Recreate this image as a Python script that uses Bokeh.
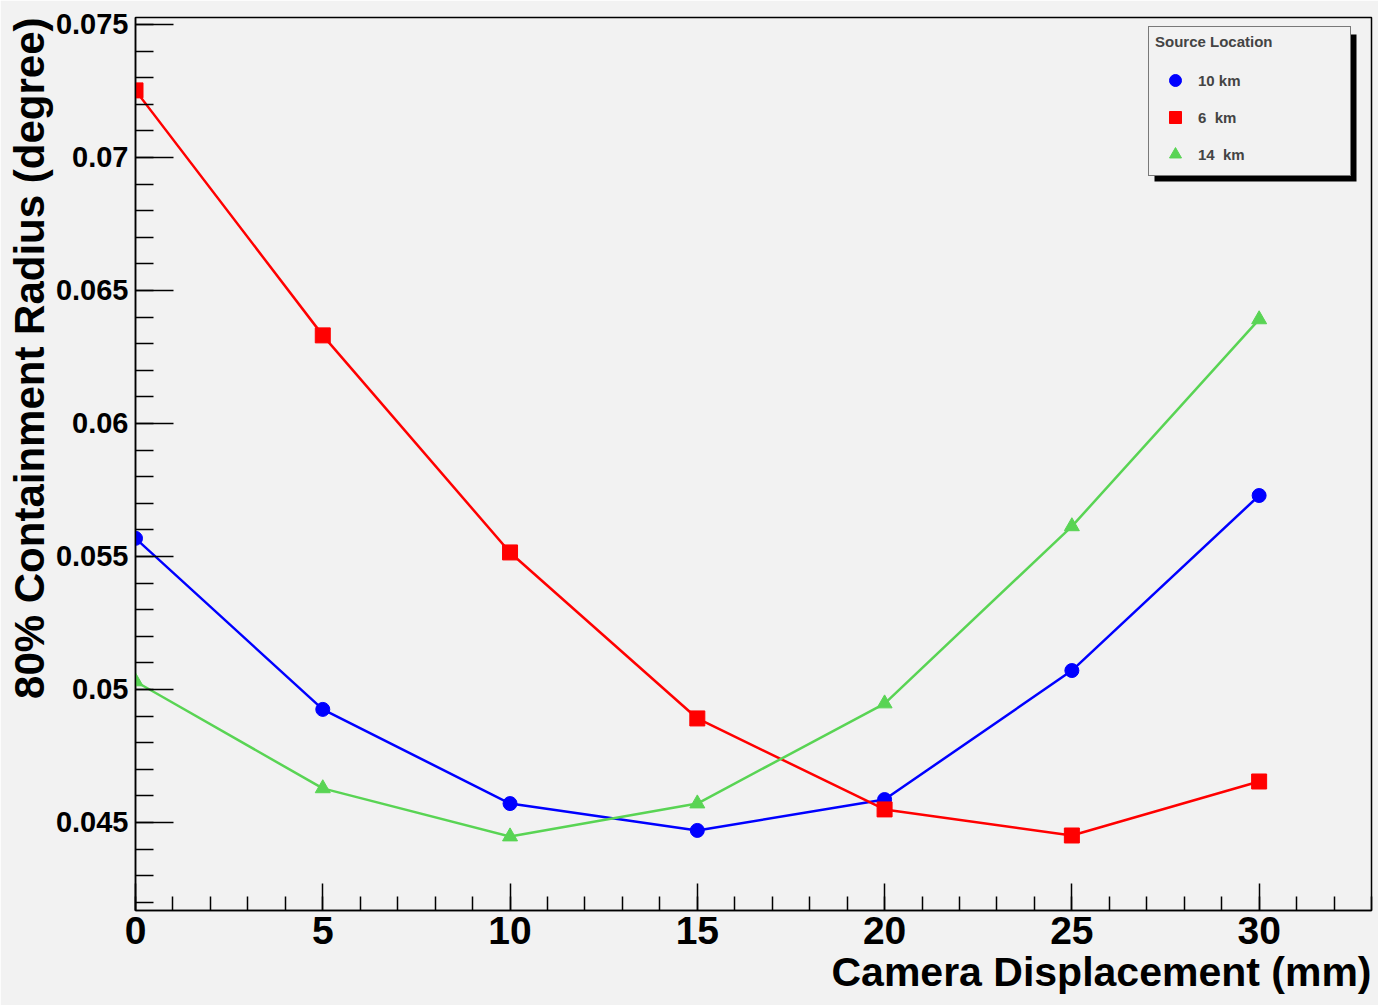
import math
from bokeh.plotting import figure
from bokeh.models import FixedTicker, Legend, LegendItem, BoxAnnotation, Range1d, Title
from bokeh.embed import file_html
from bokeh.resources import INLINE

# ---- data ----
displacement = [0, 5, 10, 15, 20, 25, 30]
radius_10km = [0.05568, 0.04925, 0.04571, 0.04470, 0.04586, 0.05071, 0.05729]
radius_6km = [0.07252, 0.06331, 0.05515, 0.04891, 0.04549, 0.04451, 0.04654]
radius_14km = [0.05030, 0.04628, 0.04447, 0.04571, 0.04947, 0.05613, 0.06391]
series_labels = ["10 km", "6  km", "14  km"]
x_ticks = [0, 5, 10, 15, 20, 25, 30]
x_tick_labels = ["0", "5", "10", "15", "20", "25", "30"]
y_ticks = [0.045, 0.05, 0.055, 0.06, 0.065, 0.07, 0.075]
y_tick_labels = ["0.045", "0.05", "0.055", "0.06", "0.065", "0.07", "0.075"]
legend_title = "Source Location"
x_title = "Camera Displacement (mm)"
y_title = "80% Containment Radius (degree)"

XMIN, XMAX = 0.0, 33.0
YMIN, YMAX = 0.04169, 0.07526

BG = "#f2f2f2"
FONT = "Liberation Sans"

W, H = 1378, 1005
ML, MR, MT, MB = 135, 7, 17, 95

p = figure(width=W, height=H, output_backend="svg", toolbar_location=None,
           x_range=Range1d(XMIN, XMAX), y_range=Range1d(YMIN, YMAX),
           min_border_left=ML, min_border_right=MR, min_border_top=MT, min_border_bottom=MB,
           background_fill_color=BG, border_fill_color=BG)
p.xgrid.visible = False
p.ygrid.visible = False
p.outline_line_color = "black"
p.outline_line_width = 1.5

# frame geometry (page pixels) for converting annotation positions
FL, FR, FT, FB = ML, W - MR, MT, H - MB
sx = (FR - FL) / (XMAX - XMIN)
sy = (FB - FT) / (YMAX - YMIN)
def dx(px):
    return XMIN + (px - FL) / sx
def dy(py):
    return YMAX - (py - FT) / sy

# axes
xa = p.xaxis[0]
xa.ticker = FixedTicker(ticks=x_ticks, minor_ticks=list(range(0, 34)))
xa.major_label_overrides = {t: l for t, l in zip(x_ticks, x_tick_labels)}
xa.major_tick_in = 27
xa.major_tick_out = 0
xa.minor_tick_in = 14
xa.minor_tick_out = 0
xa.major_tick_line_width = 1.5
xa.minor_tick_line_width = 1.5
xa.axis_line_width = 1.5
xa.major_label_text_font = FONT
xa.major_label_text_font_style = "bold"
xa.major_label_text_font_size = "39px"
xa.major_label_text_color = "black"
xa.major_label_standoff = 6

ya = p.yaxis[0]
ya.ticker = FixedTicker(ticks=y_ticks, minor_ticks=[round(0.042 + 0.001 * i, 3) for i in range(34)])
ya.major_label_overrides = {t: l for t, l in zip(y_ticks, y_tick_labels)}
ya.major_tick_in = 38
ya.major_tick_out = 0
ya.minor_tick_in = 18
ya.minor_tick_out = 0
ya.major_tick_line_width = 1.5
ya.minor_tick_line_width = 1.5
ya.axis_line_width = 1.5
ya.major_label_text_font = FONT
ya.major_label_text_font_style = "bold"
ya.major_label_text_font_size = "29px"
ya.major_label_text_color = "black"
ya.major_label_standoff = 7

# series
blue = "#0000ff"
red = "#ff0000"
green = "#59d454"
p.line(displacement, radius_10km, line_color=blue, line_width=2.5)
s1 = p.scatter(displacement, radius_10km, marker="circle", size=14, fill_color=blue, line_color=blue)
p.line(displacement, radius_6km, line_color=red, line_width=2.5)
s2 = p.scatter(displacement, radius_6km, marker="square", size=15, fill_color=red, line_color=red)
p.line(displacement, radius_14km, line_color=green, line_width=2.5)
s3 = p.scatter(displacement, radius_14km, marker="triangle", size=15, fill_color=green, line_color=green)

# legend shadow
shadow = BoxAnnotation(left=dx(1154), right=dx(1356), top=dy(34), bottom=dy(181),
                       fill_color="black", fill_alpha=1.0, line_alpha=0)
p.add_layout(shadow)

legend = Legend(items=[LegendItem(label=series_labels[0], renderers=[s1]),
                       LegendItem(label=series_labels[1], renderers=[s2]),
                       LegendItem(label=series_labels[2], renderers=[s3])],
                location=(1148 - FL, FB - 176),
                title=legend_title,
                title_text_font=FONT, title_text_font_style="bold", title_text_font_size="15px",
                title_standoff=15,
                label_text_font=FONT, label_text_font_style="bold", label_text_font_size="15px",
                padding=6, spacing=7, margin=0,
                glyph_width=40, glyph_height=30, label_height=30, label_width=146,
                label_standoff=3,
                border_line_color="black", border_line_width=1.5,
                background_fill_color=BG, background_fill_alpha=1.0)
p.add_layout(legend)

# axis titles
p.add_layout(Title(text=x_title, align="right", text_font=FONT, text_font_style="bold",
                   text_font_size="41px", text_color="black", standoff=0, offset=0), "below")
p.add_layout(Title(text=y_title, align="right", text_font=FONT, text_font_style="bold",
                   text_font_size="42px", text_color="black", standoff=0, offset=0), "left")

open("out.html", "w").write(file_html(p, INLINE))
